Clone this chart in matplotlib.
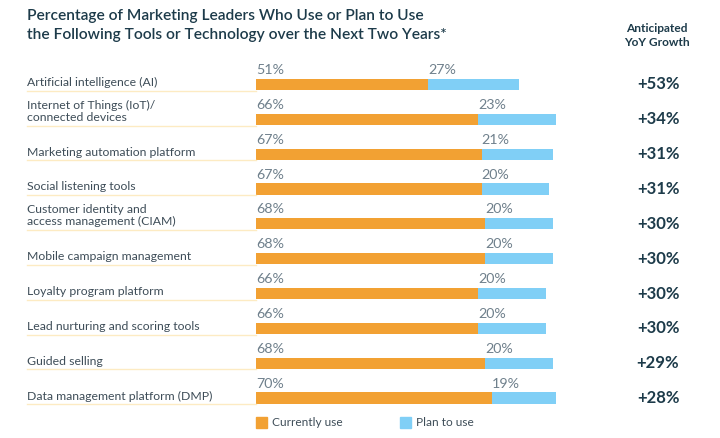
import matplotlib.pyplot as plt
import matplotlib.transforms as mtransforms
from matplotlib.patches import Rectangle

plt.rcParams['font.family'] = ['Lato', 'DejaVu Sans']

# data
tools = ['Artificial intelligence (AI)', 'Internet of Things (IoT)/\nconnected devices',
         'Marketing automation platform', 'Social listening tools',
         'Customer identity and\naccess management (CIAM)', 'Mobile campaign management',
         'Loyalty program platform', 'Lead nurturing and scoring tools',
         'Guided selling', 'Data management platform (DMP)']
current = [51, 66, 67, 67, 68, 68, 66, 66, 68, 70]
plan = [27, 23, 21, 20, 20, 20, 20, 20, 20, 19]
growth = ['+53%', '+34%', '+31%', '+31%', '+30%', '+30%', '+30%', '+30%', '+29%', '+28%']

orange = '#F2A133'
blue = '#80CFF6'
dark = '#1d3b4a'
label_col = '#3e4d58'
pct_col = '#6f808c'

W, H = 720, 438
fig = plt.figure(figsize=(W / 100, H / 100), dpi=100)

# axes in pixels: bars start at x=256, 3.37 px per percent
left, width = 256 / W, 337 / W
top_px, bot_px = 67, 415.5
ax = fig.add_axes([left, 1 - bot_px / H, width, (bot_px - top_px) / H])
ax.set_xlim(0, 100)
ax.set_ylim(len(tools) - 0.5, -0.5)
ax.axis('off')

bh = 0.32
ys = range(len(tools))
ax.barh(ys, current, height=bh, color=orange, linewidth=0)
ax.barh(ys, plan, left=current, height=bh, color=blue, linewidth=0)

tr = mtransforms.blended_transform_factory(fig.transFigure, ax.transData)
for i, (name, c, p, g) in enumerate(zip(tools, current, plan, growth)):
    ax.text(0, i - bh / 2 - 0.08, f'{c}%', ha='left', va='bottom', fontsize=10.3, color=pct_col)
    ax.text(c, i - bh / 2 - 0.08, f'{p}%', ha='left', va='bottom', fontsize=10.3, color=pct_col)
    ax.text(27 / W, i + 0.1, name, transform=tr, ha='left', va='bottom', fontsize=8.8,
            color=label_col, linespacing=1.1)
    ax.plot([27 / W, left], [i + bh / 2 + 0.02] * 2, transform=tr, color='#fdebc3', lw=1,
            clip_on=False)
    ax.text(658 / W, i, g, transform=tr, ha='center', va='center', fontsize=12,
            fontweight='bold', color=dark)

fig.text(27 / W, 1 - 9 / H, 'Percentage of Marketing Leaders Who Use or Plan to Use\n'
         'the Following Tools or Technology over the Next Two Years*',
         ha='left', va='top', fontsize=11.2, fontweight='semibold', color=dark, linespacing=1.45)
fig.text(657 / W, 1 - 23 / H, 'Anticipated\nYoY Growth', ha='center', va='top', fontsize=8.6,
         fontweight='bold', color=dark, linespacing=1.3)

# legend
for x0, col, lab in [(256, orange, 'Currently use'), (400, blue, 'Plan to use')]:
    fig.patches.append(Rectangle((x0 / W, 1 - 428 / H), 11 / W, 11 / H, color=col,
                                 transform=fig.transFigure))
    fig.text((x0 + 16) / W, 1 - 422.5 / H, lab, ha='left', va='center', fontsize=8.6,
             color=label_col)

fig.savefig('out.png', dpi=100)
